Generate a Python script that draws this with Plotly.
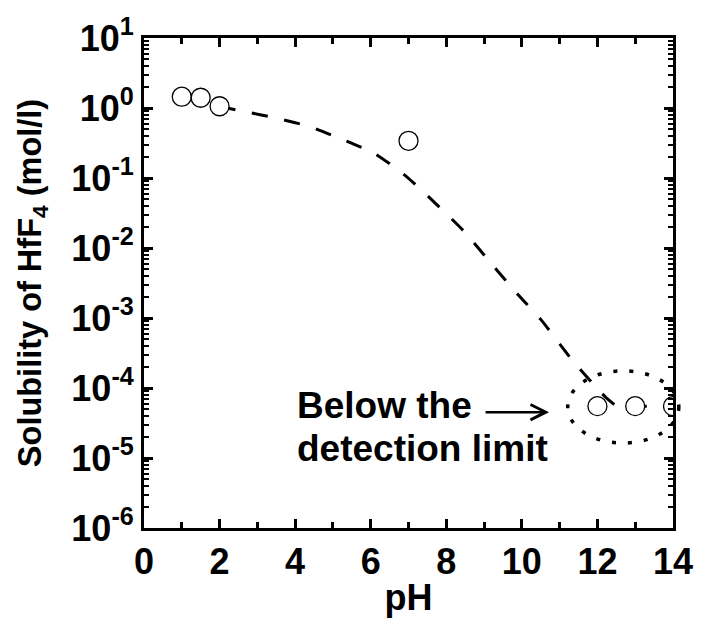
import plotly.graph_objects as go

# Measured solubility of HfF4 versus pH
ph_meas = [1.0, 1.5, 2.0, 7.0, 12.0, 13.0, 14.0]
sol_meas = [1.45, 1.40, 1.06, 0.34, 5.5e-5, 5.5e-5, 5.5e-5]

# Calculated solubility curve
ph_calc = [2.0, 2.6, 3.6, 4.4, 5.2, 6.1, 6.9, 7.7, 8.5, 9.2, 9.9, 10.5,
           11.3, 12.0, 12.25, 12.5, 13.0, 14.0]
sol_calc = [1.05, 0.904, 0.697, 0.538, 0.364, 0.224, 0.110, 0.0442, 0.0166,
            0.00589, 0.00215, 9.55e-4, 2.63e-4, 9.8e-5, 7.1e-5, 5.6e-5,
            5.5e-5, 5.5e-5]

# Axis ticks
x_ticks = [0, 2, 4, 6, 8, 10, 12, 14]
y_tickvals = [1e-6, 1e-5, 1e-4, 1e-3, 1e-2, 1e-1, 1e0, 1e1]
y_ticktext = ["10<sup>-6</sup>", "10<sup>-5</sup>", "10<sup>-4</sup>",
              "10<sup>-3</sup>", "10<sup>-2</sup>", "10<sup>-1</sup>",
              "10<sup>0</sup>", "10<sup>1</sup>"]

# Outline around the points below the detection limit (plot-area fractions)
ring_x = [0.801, 1.011]
ring_y = [0.1734, 0.3206]
note_lines = ["Below the", "detection limit"]

FONT = "Liberation Sans, Arial, sans-serif"

fig = go.Figure()

fig.add_trace(go.Scatter(
    x=ph_calc, y=sol_calc, mode="lines",
    line=dict(color="black", width=3, dash="16px,17px",
              shape="spline", smoothing=0.6),
    hoverinfo="skip",
))

fig.add_trace(go.Scatter(
    x=ph_meas, y=sol_meas, mode="markers",
    marker=dict(symbol="circle", size=19, color="white",
                line=dict(color="black", width=1.3)),
))

fig.add_shape(
    type="circle", xref="paper", yref="paper",
    x0=ring_x[0], x1=ring_x[1], y0=ring_y[0], y1=ring_y[1],
    line=dict(color="black", width=3.5, dash="4px,12px"),
    layer="above",
)

# arrow pointing at the encircled points (log axis -> log10 coordinates)
fig.add_annotation(
    x=10.72, y=-4.345, xref="x", yref="y",
    ax=9.0, ay=-4.345, axref="x", ayref="y",
    text="", showarrow=True, arrowhead=5, arrowsize=1.2,
    arrowwidth=2.5, arrowcolor="black",
)
for txt, ylog in zip(note_lines, [-4.247, -4.867]):
    fig.add_annotation(
        x=4.0, y=ylog, xref="x", yref="y",
        text="<b>" + txt + "</b>", showarrow=False,
        xanchor="left", yanchor="middle", align="left",
        font=dict(family=FONT, size=37, color="black"),
    )

fig.update_layout(
    width=705, height=623,
    margin=dict(l=144, r=23, t=33, b=94),
    paper_bgcolor="white", plot_bgcolor="white",
    showlegend=False,
    font=dict(family=FONT, color="black"),
)

fig.update_xaxes(
    range=[0, 14], tickvals=x_ticks,
    ticks="inside", ticklen=9, tickwidth=2.5, tickcolor="black",
    minor=dict(dtick=1, ticks="inside", ticklen=6, tickwidth=2.5,
               tickcolor="black", showgrid=False),
    showline=True, linewidth=3, linecolor="black", mirror="ticks",
    showgrid=False, zeroline=False,
    tickfont=dict(family=FONT, size=36, color="black", weight="bold"),
    title=dict(text="<b>pH</b>", standoff=4,
               font=dict(family=FONT, size=36, color="black")),
)

fig.update_yaxes(
    type="log", range=[-6, 1],
    tickmode="array", tickvals=y_tickvals, ticktext=y_ticktext,
    ticks="inside", ticklen=9, tickwidth=2.5, tickcolor="black",
    minor=dict(dtick="D1", ticks="inside", ticklen=5, tickwidth=2,
               tickcolor="black", showgrid=False),
    showline=True, linewidth=3, linecolor="black", mirror="ticks",
    showgrid=False, zeroline=False,
    tickfont=dict(family=FONT, size=36, color="black", weight="bold"),
    title=dict(text="<b>Solubility of HfF<sub>4</sub> (mol/l)</b>",
               standoff=20,
               font=dict(family=FONT, size=32.5, color="black")),
)

fig.write_html("out.html")
